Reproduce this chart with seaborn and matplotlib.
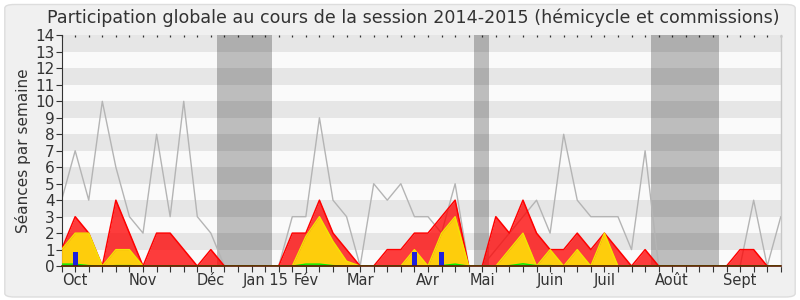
import matplotlib
matplotlib.use("Agg")
import matplotlib.pyplot as plt
from matplotlib.patches import FancyBboxPatch
import numpy as np
import pandas as pd
import seaborn as sns

# ---- data (weekly values, session 2014-2015) ----
weeks = list(range(54))
total_seances = [4, 7, 4, 10, 6, 3, 2, 8, 3, 10, 3, 2, 0, 0, 0, 0, 0, 3, 3, 9,
                 4, 3, 0, 5, 4, 5, 3, 3, 2, 5, 0, 0, 1, 2, 3, 4, 2, 8, 4, 3,
                 3, 3, 1, 7, 0, 0, 0, 0, 0, 0, 0, 4, 0, 3]
presences = [1, 3, 2, 0, 4, 2, 0, 2, 2, 1, 0, 1, 0, 0, 0, 0, 0, 2, 2, 4,
             2, 1, 0, 0, 1, 1, 2, 2, 3, 4, 0, 0, 3, 2, 4, 2, 1, 1, 2, 1,
             2, 1, 0, 1, 0, 0, 0, 0, 0, 0, 1, 1, 0, 0]
commission = [1, 2, 2, 0, 1, 1, 0, 0, 0, 0, 0, 0, 0, 0, 0, 0, 0, 0, 1.8, 3,
              1.5, 0.3, 0, 0, 0, 0, 1, 0, 2, 3, 0, 0, 0, 1, 2, 0, 1, 0, 1, 0,
              2, 0, 0, 0, 0, 0, 0, 0, 0, 0, 0, 0, 0, 0]
hemicycle = [0.12, 0.12, 0.03, 0, 0.03, 0.03, 0, 0, 0, 0, 0, 0, 0, 0, 0, 0, 0, 0, 0.12, 0.12,
             0.03, 0, 0, 0, 0, 0, 0, 0, 0.03, 0.12, 0, 0, 0, 0.03, 0.14, 0.03, 0.03, 0, 0, 0,
             0, 0, 0, 0, 0, 0, 0, 0, 0, 0, 0, 0, 0, 0]
questions = [0, 0.88, 0, 0, 0, 0, 0, 0, 0, 0, 0, 0, 0, 0, 0, 0, 0, 0, 0, 0,
             0, 0, 0, 0, 0, 0, 0.88, 0, 0.88, 0, 0, 0, 0, 0, 0, 0, 0, 0, 0, 0,
             0, 0, 0, 0, 0, 0, 0, 0, 0, 0, 0, 0, 0, 0]
vacances_debut = [11.45, 30.4, 43.45]
vacances_fin = [15.5, 31.47, 48.45]
month_labels = ["Oct", "Nov", "Déc", "Jan 15", "Fév", "Mar", "Avr", "Mai",
                "Juin", "Juil", "Août", "Sept"]
month_weeks = [1, 6, 11, 15, 18, 22, 27, 31, 36, 40, 45, 50]

df = pd.DataFrame({"semaine": weeks, "total": total_seances, "presences": presences,
                   "commission": commission, "hemicycle": hemicycle,
                   "questions": questions})

sns.set_theme(style="white")
plt.rcParams["font.family"] = ["DejaVu Sans"]

fig = plt.figure(figsize=(8, 3), dpi=100, facecolor="white")
panel = FancyBboxPatch((0.006, 0.01), 0.988, 0.975, boxstyle="round,pad=0,rounding_size=0.012",
                       transform=fig.transFigure, facecolor="#f0f0f0",
                       edgecolor="#dddddd", linewidth=1, zorder=-10)
fig.patches.append(panel)

ax = fig.add_axes([0.077, 0.113, 0.899, 0.769])
ax.set_facecolor("#fafafa")
ax.set_xlim(0, 53)
ax.set_ylim(0, 14)

for k in range(1, 14, 2):
    ax.axhspan(k, k + 1, color="#e6e6e6", zorder=0, lw=0)
for a, b in zip(vacances_debut, vacances_fin):
    ax.axvspan(a, b, color="#0a0a0a", alpha=0.25, zorder=1, lw=0)

# total sessions line
sns.lineplot(data=df, x="semaine", y="total", ax=ax, color="#b4b4b4", lw=1, zorder=2)
# presences (red)
ax.fill_between(df["semaine"], 0, df["presences"], color=(1, 0, 0), alpha=0.76, lw=0, zorder=3)
sns.lineplot(data=df, x="semaine", y="presences", ax=ax, color="#ff0000", lw=1.1, zorder=3.5)
# commission (yellow)
ax.fill_between(df["semaine"], 0, df["commission"], color="#ffd60a", alpha=0.95, lw=0, zorder=4)
sns.lineplot(data=df, x="semaine", y="commission", ax=ax, color="#f2e600", lw=1.0, zorder=4.5)
# hemicycle (green)
ax.fill_between(df["semaine"], 0, df["hemicycle"], color="#33dd33", lw=0, zorder=5)
sns.lineplot(data=df, x="semaine", y="hemicycle", ax=ax, color="#00ee00", lw=1.0, zorder=5.5)
# questions (blue bars)
ax.bar(df["semaine"], df["questions"], width=0.35, color="#1f1fdd", zorder=6, lw=0)

ax.set_xlabel("")
ax.set_ylabel("Séances par semaine", fontsize=11, color="#333333", labelpad=3)

ax.set_yticks(range(0, 15))
ax.set_yticklabels([str(v) for v in range(0, 15)], fontsize=11, color="#333333")

xt_labels = [""] * len(weeks)
for lab, w in zip(month_labels, month_weeks):
    xt_labels[w] = lab
ax.set_xticks(weeks)
ax.set_xticklabels(xt_labels, fontsize=10.5, color="#333333")

ax.tick_params(axis="x", which="major", bottom=True, top=True, direction="out",
               length=4, width=0.8, color="#333333", pad=1)
ax.tick_params(axis="y", left=True, direction="out", length=4, width=0.8,
               color="#333333", pad=1)
# top ticks as small dots pointing inward
for t in ax.xaxis.get_major_ticks():
    t.tick2line.set_markersize(1.5)
    t.tick2line.set_marker(matplotlib.lines.TICKDOWN)
    t.tick2line.set_markeredgewidth(0.9)
    t.tick2line.set_color("#222222")

for s in ["top"]:
    ax.spines[s].set_visible(False)
ax.spines["right"].set_color("#c8c8c8")
ax.spines["right"].set_linewidth(1)
ax.spines["left"].set_color("#333333")
ax.spines["left"].set_linewidth(0.8)
ax.spines["bottom"].set_color("#5a1a00")
ax.spines["bottom"].set_linewidth(1.2)
ax.spines["bottom"].set_zorder(7)

fig.text(0.516, 0.94, "Participation globale au cours de la session 2014-2015 (hémicycle et commissions)",
         ha="center", va="center", fontsize=12.6, color="#333333")

fig.savefig("out.png", dpi=100, facecolor=fig.get_facecolor())
